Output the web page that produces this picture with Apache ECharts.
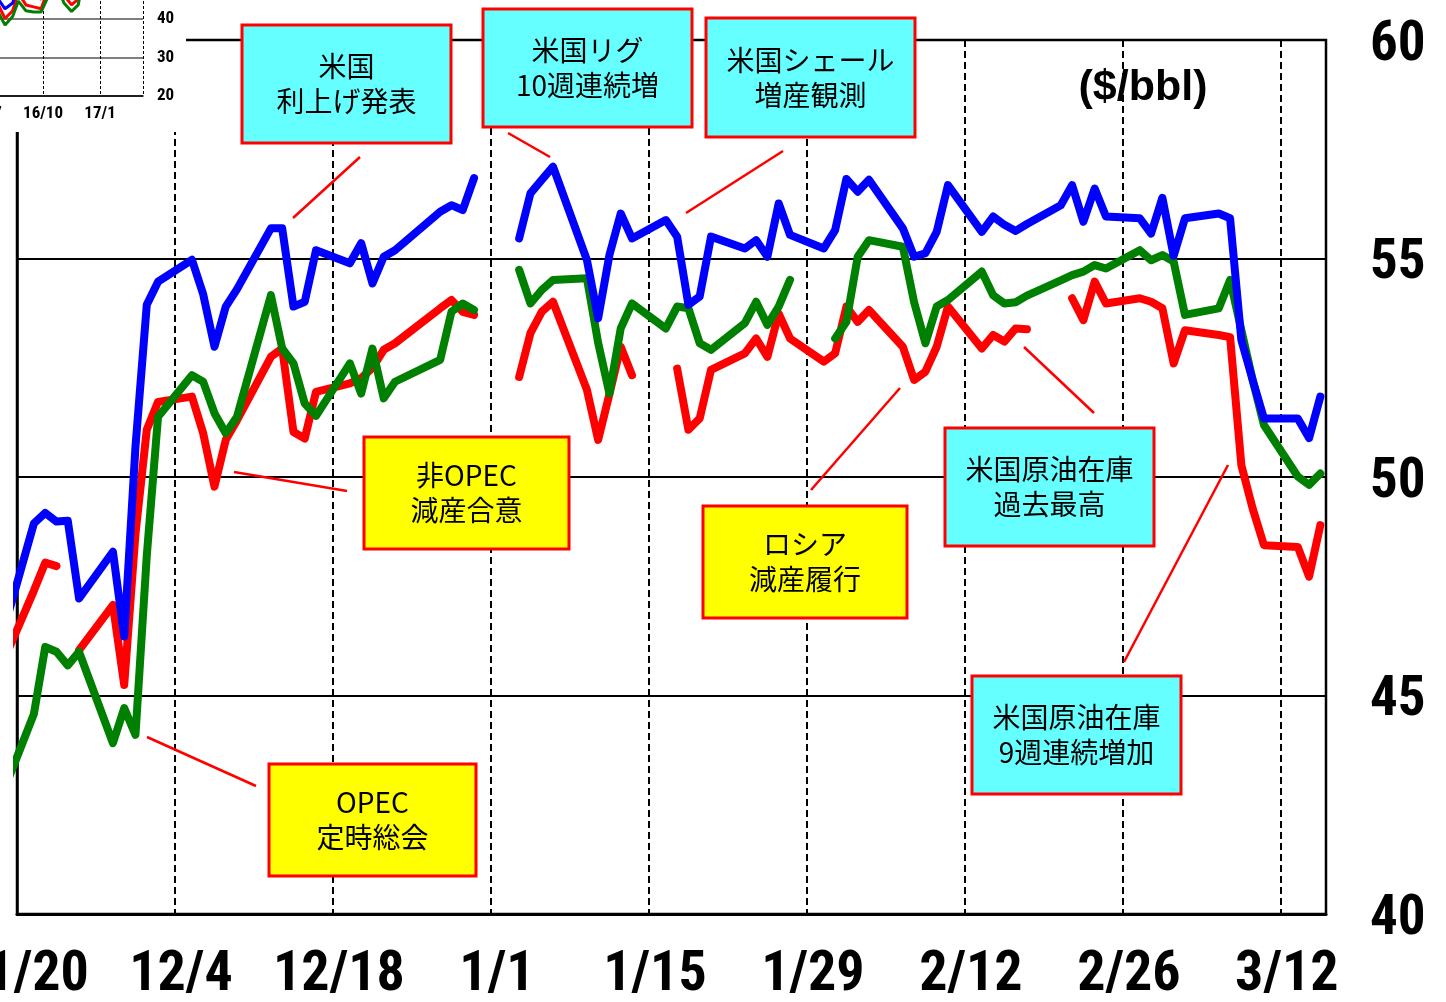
<!DOCTYPE html>
<html>
<head>
<meta charset="utf-8">
<title>原油価格の推移</title>
<script src="https://cdn.jsdelivr.net/npm/echarts@6/dist/echarts.min.js"></script>
<style>
  html, body { margin: 0; padding: 0; background: #fff; }
  #chart { width: 1446px; height: 1002px; }
</style>
</head>
<body>
<div id="chart"></div>
<script>
  // 取引日（null の値で線を切る）
  var dates = [
    "2016-11-18", "2016-11-21", "2016-11-22", "2016-11-23", "2016-11-24", "2016-11-25", "2016-11-28", "2016-11-29", "2016-11-30",
    "2016-12-01", "2016-12-02", "2016-12-05", "2016-12-06", "2016-12-07", "2016-12-08", "2016-12-09", "2016-12-12", "2016-12-13",
    "2016-12-14", "2016-12-15", "2016-12-16", "2016-12-19", "2016-12-20", "2016-12-21", "2016-12-22", "2016-12-23", "2016-12-27",
    "2016-12-28", "2016-12-29", "2016-12-30",
    "2017-01-02", "2017-01-03", "2017-01-04", "2017-01-05", "2017-01-06", "2017-01-09", "2017-01-10", "2017-01-11", "2017-01-12",
    "2017-01-13", "2017-01-16", "2017-01-17", "2017-01-18", "2017-01-19", "2017-01-20", "2017-01-23", "2017-01-24", "2017-01-25",
    "2017-01-26", "2017-01-27", "2017-01-30", "2017-01-31",
    "2017-02-01", "2017-02-02", "2017-02-03", "2017-02-06", "2017-02-07", "2017-02-08", "2017-02-09", "2017-02-10", "2017-02-13",
    "2017-02-14", "2017-02-15", "2017-02-16", "2017-02-17", "2017-02-20", "2017-02-21", "2017-02-22", "2017-02-23", "2017-02-24",
    "2017-02-27", "2017-02-28",
    "2017-03-01", "2017-03-02", "2017-03-03", "2017-03-06", "2017-03-07", "2017-03-08", "2017-03-09", "2017-03-10", "2017-03-13",
    "2017-03-14", "2017-03-15"
  ];
  // 青
  var brent = [
    46.2, 48.94, 49.18, 48.98, 49.0, 47.22, 48.29, 46.35, 50.7,
    53.94, 54.47, 54.97, 54.18, 52.98, 53.9, 54.3, 55.69, 55.69, 53.9, 54.01, 55.19, 54.89, 55.35, 54.43, 55.04, 55.19, 56.07, 56.22, 56.11, 56.84,
    null, 55.46, 56.49, 56.8, 57.1, 54.97, 53.63, 55.08, 56.03, 55.46, 55.88, 55.5, 53.94, 54.13, 55.5, 55.23, 55.42, 55.04, 56.26, 55.54, 55.23, 55.65,
    56.82, 56.53, 56.8, 55.69, 55.04, 55.12, 55.61, 56.68, 55.61, 55.96, 55.77, 55.63, 55.79, 56.22, 56.68, 55.84, 56.6, 55.96, 55.92, 55.57,
    56.39, 55.06, 55.92, 56.03, 55.92, 53.13, 52.22, 51.34, 51.34, 50.89, 51.84
  ];
  // 赤
  var wti = [
    45.6, 47.4, 48.04, 47.96, null, 46.04, 47.07, 45.24, 48.7,
    51.08, 51.72, 51.84, 51.0, 49.78, 50.85, 51.3, 52.75, 52.94, 51.03, 50.88, 51.95, 52.14, 52.26, 52.5, 52.91, 53.06, 53.86, 54.05, 53.78, 53.71,
    null, 52.29, 53.29, 53.78, 54.01, 52.0, 50.85, 51.9, 52.98, 52.33, null, 52.48, 51.08, 51.34, 52.45, 52.83, 53.17, 52.75, 53.74, 53.17, 52.64, 52.83,
    53.9, 53.55, 53.82, 52.98, 52.22, 52.41, 52.98, 53.9, 52.94, 53.25, 53.1, 53.4, 53.38, null, 54.09, 53.59, 54.47, 53.97, 54.09, 54.01,
    53.86, 52.6, 53.36, 53.25, 53.2, 50.27, 49.28, 48.44, 48.4, 47.72, 48.9
  ];
  // 緑
  var dubai = [
    42.6, 44.58, 46.11, 46.0, 45.69, 46.0, 43.91, 44.71, 44.1,
    48.2, 51.38, 52.33, 52.18, 51.46, 51.0, 51.38, 54.16, 52.94, 52.6, 51.68, 51.4, 52.6, 51.91, 52.94, 51.8, 52.18, 52.68, 53.78, 53.97, 53.82,
    null, 54.74, 53.97, 54.28, 54.51, 54.55, 53.07, 51.91, 53.4, 53.97, 53.4, 53.9, 53.86, 53.06, 52.91, 53.52, 54.01, 53.48, 53.9, 54.51, null, 53.17,
    53.55, 55.04, 55.42, 55.27, 54.0, 53.06, 53.9, 54.05, 54.7, 54.16, 53.97, 54.0, 54.15, 54.5, 54.62, 54.7, 54.85, 54.77, 55.19, 54.96,
    55.08, 54.93, 53.71, 53.86, 54.51, 53.36, 52.22, 51.19, 50.01, 49.82, 50.08
  ];
  var xLabels = ["11/20", "12/4", "12/18", "1/1", "1/15", "1/29", "2/12", "2/26", "3/12"];

  // 小さい長期チャート（月: 0 = 16/7）
  var insetMonths = [0, 0.5, 1, 1.4, 1.7, 2.1, 2.5, 2.9, 3.3, 3.7, 4.1, 4.5, 4.85, 5.1, 5.5, 6, 6.5, 7, 7.5, 8, 8.5];
  var insetBrent = [48, 46, 42.5, 44, 48, 45.5, 46, 45, 50, 52, 48, 45.5, 46.5, 54, 55, 56, 55.5, 56, 56, 55.5, 51.5];
  var insetWti = [47, 45, 40, 42, 46.5, 43.5, 43, 42.5, 48, 50.5, 46, 43.5, 45, 51, 52, 53, 52.5, 53.5, 53.8, 53, 48.5];
  var insetDubai = [45, 43, 38.3, 40.5, 44.5, 42, 41.7, 41.7, 46, 49, 44, 41.8, 43.5, 50, 52, 54, 53.5, 54.5, 54.8, 54, 50];

  var notes = [
    { text: "米国\n利上げ発表", x: 242, y: 25, w: 209, h: 118, fill: "#66ffff", line: [360, 157, 293, 218] },
    { text: "米国リグ\n10週連続増", x: 483, y: 9, w: 209, h: 118, fill: "#66ffff", line: [508, 133, 550, 157] },
    { text: "米国シェール\n増産観測", x: 706, y: 18, w: 209, h: 119, fill: "#66ffff", line: [783, 151, 686, 213] },
    { text: "非OPEC\n減産合意", x: 364, y: 437, w: 205, h: 112, fill: "#ffff00", line: [234, 472, 347, 491] },
    { text: "OPEC\n定時総会", x: 269, y: 764, w: 207, h: 112, fill: "#ffff00", line: [147, 737, 256, 786] },
    { text: "ロシア\n減産履行", x: 703, y: 506, w: 204, h: 112, fill: "#ffff00", line: [900, 388, 811, 490] },
    { text: "米国原油在庫\n過去最高", x: 945, y: 428, w: 209, h: 118, fill: "#66ffff", line: [1024, 347, 1094, 413] },
    { text: "米国原油在庫\n9週連続増加", x: 972, y: 676, w: 209, h: 118, fill: "#66ffff", line: [1228, 465, 1124, 662] }
  ];

  var NARROW = '"Liberation Sans Narrow", "Arial Narrow", "Roboto Condensed", "Liberation Sans", sans-serif';
  var CJK = '"Noto Sans CJK JP", "Noto Sans", sans-serif';

  function dayIndex(s) {
    var p = s.split("-");
    return (Date.UTC(+p[0], +p[1] - 1, +p[2]) - Date.UTC(2016, 10, 20)) / 86400000;
  }
  // 点は日の中央に置く
  function toPoints(values) {
    return dates.map(function (d, i) {
      return [dayIndex(d) + 0.5, values[i] == null ? "-" : values[i]];
    });
  }
  function insetPoints(values) {
    return insetMonths.map(function (m, i) {
      return [m, values[i]];
    });
  }

  var graphics = [
    // 小チャートの白地
    { type: "rect", zlevel: 1, z: 0, shape: { x: 0, y: 0, width: 186, height: 132 }, style: { fill: "#fff" } },
    {
      type: "text", x: 1143, y: 88, z: 100,
      style: { text: "($/bbl)", fontSize: 43, fontWeight: "bold", fontFamily: '"Liberation Sans", sans-serif', fill: "#000", align: "center", verticalAlign: "middle" }
    }
  ];
  notes.forEach(function (n) {
    graphics.push({
      type: "line", z: 100,
      shape: { x1: n.line[0], y1: n.line[1], x2: n.line[2], y2: n.line[3] },
      style: { stroke: "#ff0000", lineWidth: 2.5 }
    });
    graphics.push({
      type: "rect", z: 100,
      shape: { x: n.x, y: n.y, width: n.w, height: n.h },
      style: { fill: n.fill, stroke: "#ff0000", lineWidth: 3 },
      textContent: {
        z: 101,
        style: { text: n.text, fontSize: 28, fontFamily: CJK, fill: "#000", lineHeight: 35, align: "center" }
      },
      textConfig: { position: "inside" }
    });
  });

  var chart = echarts.init(document.getElementById("chart"));
  var option = {
    backgroundColor: "#fff",
    animation: false,
    grid: [
      {
        left: 17, top: 40, right: 120, bottom: 88, containLabel: false, outerBoundsMode: "none",
        show: true, borderColor: "#000", borderWidth: 2.5
      },
      {
        left: -242, top: -59, right: 1303, bottom: 906, containLabel: false, outerBoundsMode: "none",
        show: true, zlevel: 1, borderColor: "#000", borderWidth: 1.5
      }
    ],
    xAxis: [
      {
        type: "value",
        gridIndex: 0,
        min: 0,
        max: 116,
        interval: 14,
        axisLine: { lineStyle: { color: "#000", width: 3 } },
        axisTick: { show: false },
        axisLabel: {
          color: "#000",
          fontSize: 56,
          fontWeight: "bold",
          fontFamily: NARROW,
          margin: 34,
          padding: [0, 0, 0, 12],
          showMinLabel: true,
          showMaxLabel: false,
          hideOverlap: false,
          formatter: function (v) {
            return v % 14 === 0 ? xLabels[v / 14] : "";
          }
        },
        splitLine: { show: true, lineStyle: { color: "#000", type: [7, 4], width: 2 } }
      },
      {
        type: "value",
        gridIndex: 1,
        zlevel: 1,
        min: -12,
        max: 8.26,
        interval: 3,
        axisLine: { lineStyle: { color: "#000", width: 1.5 } },
        axisTick: { show: false },
        axisLabel: {
          color: "#000",
          fontSize: 17,
          fontWeight: "bold",
          fontFamily: NARROW,
          margin: 9,
          showMaxLabel: false,
          formatter: function (m) {
            var k = 6 + m;
            return (16 + Math.floor(k / 12)) + "/" + ((k % 12) + 1);
          }
        },
        splitLine: { show: true, lineStyle: { color: "#000", type: [3, 2], width: 1 } }
      }
    ],
    yAxis: [
      {
        type: "value",
        gridIndex: 0,
        position: "right",
        min: 40,
        max: 60,
        interval: 5,
        axisLine: { show: true, lineStyle: { color: "#000", width: 2.5 } },
        axisTick: { show: false },
        axisLabel: {
          margin: 44,
          formatter: function (v) {
            return "{n|" + v + "}";
          },
          rich: {
            n: { color: "#000", fontSize: 55, fontWeight: "bold", fontFamily: NARROW, padding: [12, 0, 0, 0] }
          }
        },
        splitLine: { lineStyle: { color: "#000", width: 2 } }
      },
      {
        type: "value",
        gridIndex: 1,
        zlevel: 1,
        position: "right",
        min: 20,
        max: 60,
        interval: 10,
        axisLine: { show: true, lineStyle: { color: "#000", width: 1.5 } },
        axisTick: { show: false },
        axisLabel: { color: "#000", fontSize: 17, fontWeight: "bold", fontFamily: NARROW, margin: 14 },
        splitLine: { lineStyle: { color: "#555", width: 1.5 } }
      }
    ],
    series: [
      {
        type: "line", xAxisIndex: 0, yAxisIndex: 0, data: toPoints(wti),
        showSymbol: false, symbol: "none", z: 2, clip: true,
        lineStyle: { color: "#ff0000", width: 8, join: "round", cap: "round" }
      },
      {
        type: "line", xAxisIndex: 0, yAxisIndex: 0, data: toPoints(dubai),
        showSymbol: false, symbol: "none", z: 3, clip: true,
        lineStyle: { color: "#008000", width: 8, join: "round", cap: "round" }
      },
      {
        type: "line", xAxisIndex: 0, yAxisIndex: 0, data: toPoints(brent),
        showSymbol: false, symbol: "none", z: 4, clip: true,
        lineStyle: { color: "#0000ff", width: 8, join: "round", cap: "round" }
      },
      {
        type: "line", xAxisIndex: 1, yAxisIndex: 1, data: insetPoints(insetWti), zlevel: 1, z: 3,
        symbol: "none", clip: true, lineStyle: { color: "#ff0000", width: 3 }
      },
      {
        type: "line", xAxisIndex: 1, yAxisIndex: 1, data: insetPoints(insetBrent), zlevel: 1, z: 3,
        symbol: "none", clip: true, lineStyle: { color: "#0000ff", width: 3 }
      },
      {
        type: "line", xAxisIndex: 1, yAxisIndex: 1, data: insetPoints(insetDubai), zlevel: 1, z: 3,
        symbol: "none", clip: true, lineStyle: { color: "#008000", width: 3 }
      }
    ],
    graphic: graphics
  };
  chart.setOption(option);
</script>
</body>
</html>
